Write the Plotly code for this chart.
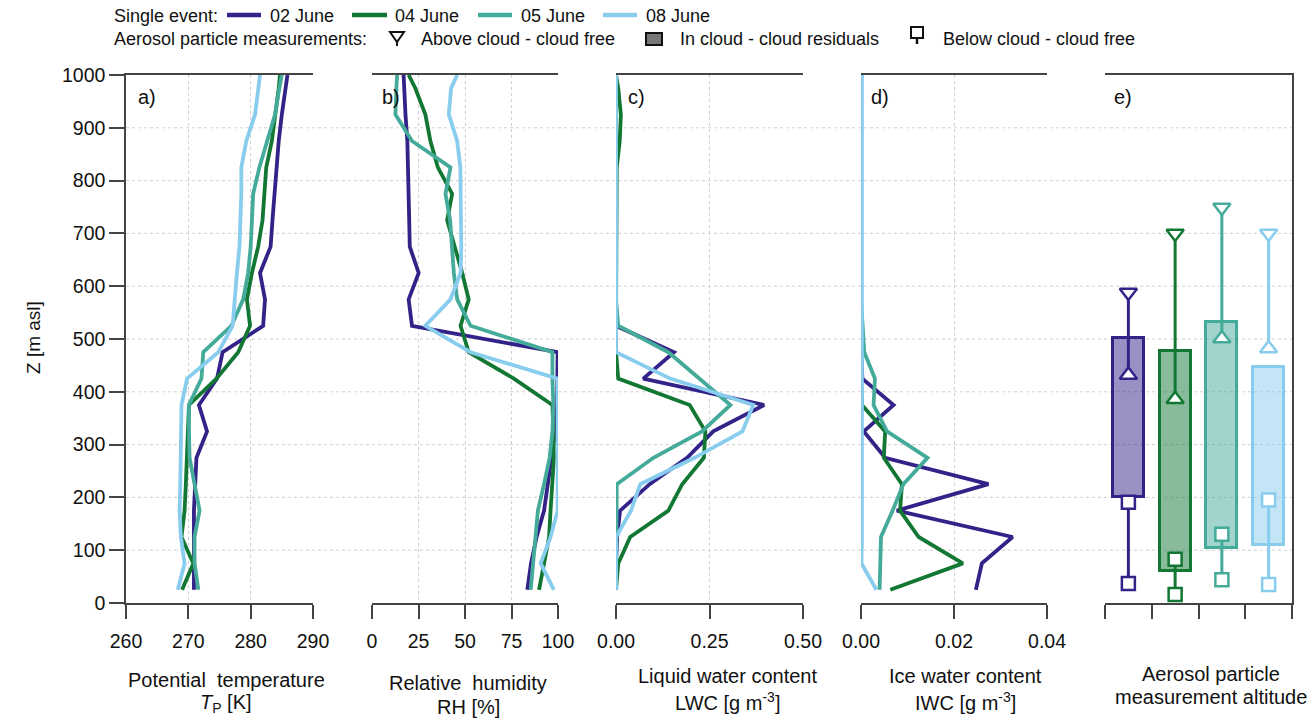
import plotly.graph_objects as go

W, H = 1316, 720

# ---------------- data ----------------
events = ["02 June", "04 June", "05 June", "08 June"]
colors = ["#332288", "#117733", "#44AA99", "#88CCEE"]
box_fills = ["rgba(51,34,136,0.5)", "rgba(17,119,51,0.5)",
             "rgba(68,170,153,0.5)", "rgba(136,204,238,0.5)"]

heights = [25, 75, 125, 175, 225, 275, 325, 375, 425, 475, 525,
           575, 625, 675, 725, 775, 825, 875, 925, 975, 1000]

tp_02 = [270.9, 270.9, 270.9, 270.9, 271.1, 271.3, 273.0, 271.7, 274.6, 275.5, 282.0,
         282.3, 281.5, 283.2, 283.5, 283.8, 284.1, 284.5, 285.0, 285.5, 285.9]
tp_04 = [269.0, 270.8, 268.9, 269.4, 269.6, 269.8, 269.9, 270.1, 274.5, 278.0, 279.9,
         279.4, 280.2, 281.2, 281.9, 282.2, 282.5, 283.4, 284.0, 284.5, 284.7]
tp_05 = [271.6, 271.0, 271.0, 271.8, 271.0, 270.2, 270.1, 270.1, 272.1, 272.4, 276.9,
         278.8, 279.6, 280.0, 280.2, 280.4, 281.4, 282.6, 283.9, 284.6, 285.0]
tp_08 = [268.3, 269.4, 268.8, 268.6, 268.7, 268.8, 268.8, 268.9, 269.8, 274.8, 277.1,
         277.4, 277.8, 278.2, 278.4, 278.5, 278.5, 279.3, 280.7, 281.3, 281.5]

rh_02 = [83.5, 85.5, 88.5, 92.5, 94.5, 96.5, 98.5, 99.5, 99.8, 99.8, 21.5,
         19.7, 25.1, 20.3, 20.0, 19.8, 19.5, 19.0, 18.0, 17.3, 17.0]
rh_04 = [89.8, 92.5, 95.2, 96.0, 96.8, 97.8, 97.5, 97.0, 76.3, 52.0, 47.6,
         52.0, 48.5, 44.3, 40.4, 43.1, 35.4, 31.4, 28.7, 23.3, 19.7]
rh_05 = [85.3, 86.5, 87.5, 89.2, 92.5, 95.5, 97.0, 97.5, 97.0, 97.0, 53.0,
         45.8, 44.0, 43.0, 42.0, 39.5, 42.2, 21.5, 12.6, 13.1, 13.5]
rh_08 = [97.8, 90.7, 96.0, 99.8, 99.8, 99.8, 99.8, 99.8, 99.8, 53.0, 28.7,
         42.2, 47.6, 48.0, 48.0, 47.8, 47.5, 45.8, 41.3, 42.5, 45.8]

lwc_02 = [0.0, 0.0, 0.003, 0.011, 0.09, 0.19, 0.26, 0.396, 0.073, 0.155, 0.0,
          0.0, 0.0, 0.0, 0.0, 0.0, 0.0, 0.0, 0.0, 0.0, 0.0]
lwc_04 = [0.0, 0.006, 0.038, 0.14, 0.177, 0.235, 0.239, 0.197, 0.006, 0.0, 0.0,
          0.0, 0.0, 0.0, 0.0, 0.0, 0.002, 0.01, 0.013, 0.006, 0.0]
lwc_05 = [0.0, 0.0, 0.0, 0.0, 0.002, 0.10, 0.23, 0.306, 0.223, 0.14, 0.006,
          0.0, 0.0, 0.0, 0.0, 0.0, 0.0, 0.0, 0.0, 0.0, 0.0]
lwc_08 = [0.0, 0.0, 0.0, 0.04, 0.065, 0.21, 0.338, 0.367, 0.145, 0.0, 0.0,
          0.0, 0.0, 0.0, 0.0, 0.0, 0.0, 0.0, 0.0, 0.0, 0.0]

iwc_02 = [0.0247, 0.026, 0.0326, 0.0077, 0.0274, 0.0052, 0.0006, 0.007, 0.0003, 0.0, 0.0,
          0.0, 0.0, 0.0, 0.0, 0.0, 0.0, 0.0, 0.0, 0.0, 0.0]
iwc_04 = [0.0063, 0.0219, 0.0124, 0.0084, 0.0088, 0.0049, 0.0052, 0.0002, 0.0, 0.0, 0.0,
          0.0, 0.0, 0.0, 0.0, 0.0, 0.0, 0.0, 0.0, 0.0, 0.0]
iwc_05 = [0.004, 0.0042, 0.0043, 0.0068, 0.0091, 0.0143, 0.0056, 0.0027, 0.003, 0.0007, 0.0004,
          0.0, 0.0, 0.0, 0.0, 0.0, 0.0, 0.0, 0.0, 0.0, 0.0]
iwc_08 = [0.0033, 0.0001, 0.0002, 0.0002, 0.0002, 0.0002, 0.0002, 0.0002, 0.0002, 0.0002, 0.0002,
          0.0002, 0.0002, 0.0002, 0.0002, 0.0002, 0.0002, 0.0002, 0.0002, 0.0002, 0.0002]

# panel e: aerosol particle measurement altitudes [m asl]
event_pos = [0.5, 1.5, 2.5, 3.5]
cloud_bottom = [200, 61, 105, 110]
cloud_top = [501, 478, 533, 447]
above_cloud = [588, 700, 749, 700]
in_cloud_upper = [432, 386, 501, 482]
in_cloud_lower = [191, 83, 130, 195]
below_cloud = [37, 16, 44, 35]

tp = [tp_02, tp_04, tp_05, tp_08]
rh = [rh_02, rh_04, rh_05, rh_08]
lwc = [lwc_02, lwc_04, lwc_05, lwc_08]
iwc = [iwc_02, iwc_04, iwc_05, iwc_08]

panel_ranges = [[260, 290], [0, 100], [0, 0.5], [0, 0.04], [0, 4]]
panel_ticks = [[260, 270, 280, 290], [0, 25, 50, 75, 100], [0, 0.25, 0.5], [0, 0.02, 0.04], [0, 1, 2, 3, 4]]
z_ticks = [0, 100, 200, 300, 400, 500, 600, 700, 800, 900, 1000]

# ---------------- layout geometry (pixels) ----------------
panel_px = [(126, 313), (372, 558), (616, 803), (861, 1047), (1105, 1292)]
y_top_px, y_bot_px = 75, 603
FONT = "Liberation Sans, Arial, sans-serif"
AX = "#444444"
GRID = "#cfcfcf"


def px(x):
    return x / W


def py(y):
    return 1 - y / H


fig = go.Figure()

# profiles a-d
for k, series in enumerate([tp, rh, lwc, iwc]):
    xa = "x" if k == 0 else f"x{k + 1}"
    ya = "y" if k == 0 else f"y{k + 1}"
    for i in range(4):
        fig.add_trace(go.Scatter(x=series[i], y=heights, mode="lines",
                                 line=dict(color=colors[i], width=3.8),
                                 xaxis=xa, yaxis=ya, showlegend=False,
                                 hoverinfo="skip"))

# panel e boxes
for i in range(4):
    fig.add_trace(go.Bar(x=[event_pos[i]], y=[cloud_top[i] - cloud_bottom[i]], base=[cloud_bottom[i]],
                         width=0.66, marker=dict(color=box_fills[i], line=dict(color=colors[i], width=3)),
                         xaxis="x5", yaxis="y5", showlegend=False, hoverinfo="skip"))
for i in range(4):
    c = event_pos[i]
    fig.add_trace(go.Scatter(x=[c, c, None, c, c],
                             y=[above_cloud[i], in_cloud_upper[i], None, in_cloud_lower[i], below_cloud[i]],
                             mode="lines", line=dict(color=colors[i], width=3),
                             xaxis="x5", yaxis="y5", showlegend=False, hoverinfo="skip"))
    mk = dict(color="white", line=dict(color=colors[i], width=2.5))
    fig.add_trace(go.Scatter(x=[c], y=[above_cloud[i]], mode="markers",
                             marker=dict(symbol="triangle-down", size=15, **mk),
                             xaxis="x5", yaxis="y5", showlegend=False, hoverinfo="skip", cliponaxis=False))
    fig.add_trace(go.Scatter(x=[c], y=[in_cloud_upper[i]], mode="markers",
                             marker=dict(symbol="triangle-up", size=15, **mk),
                             xaxis="x5", yaxis="y5", showlegend=False, hoverinfo="skip", cliponaxis=False))
    fig.add_trace(go.Scatter(x=[c, c], y=[in_cloud_lower[i], below_cloud[i]], mode="markers",
                             marker=dict(symbol="square", size=13, **mk),
                             xaxis="x5", yaxis="y5", showlegend=False, hoverinfo="skip", cliponaxis=False))

layout = dict(width=W, height=H, margin=dict(l=0, r=0, t=0, b=0, pad=0, autoexpand=False),
              template="none",
              paper_bgcolor="white", plot_bgcolor="rgba(0,0,0,0)",
              font=dict(family=FONT, size=19, color="#111111"),
              bargap=0, showlegend=False)

ydom = [py(y_bot_px), py(y_top_px)]
for k in range(5):
    n = "" if k == 0 else str(k + 1)
    x0, x1 = panel_px[k]
    xa = dict(domain=[px(x0), px(x1)], range=panel_ranges[k], tickvals=panel_ticks[k],
              ticks="outside", ticklen=14, tickwidth=1.5, tickcolor=AX,
              showline=True, mirror=True, linecolor=AX, linewidth=1.5,
              showgrid=(k < 4), gridcolor=GRID, griddash="dot", gridwidth=1,
              zeroline=False, anchor="y" + n, ticklabelstandoff=6, automargin=False,
              tickfont=dict(size=19.5, family=FONT, color="#111111"))
    if k in (2, 3):
        xa["tickformat"] = ".2f"
    if k == 4:
        xa["showticklabels"] = False
    layout["xaxis" + n] = xa
    ya = dict(domain=ydom, range=[0, 1000], anchor="x" + n, showgrid=False, zeroline=False,
              automargin=False)
    if k == 0:
        ya.update(tickvals=z_ticks, ticks="outside", ticklen=15, tickwidth=1.5, tickcolor=AX,
                  showline=True, linecolor=AX, linewidth=1.5,
                  tickfont=dict(size=19.5, family=FONT, color="#111111"))
    elif k == 4:
        ya.update(side="right", showline=True, linecolor=AX, linewidth=1.5,
                  ticks="", showticklabels=False)
    else:
        ya.update(showline=False, ticks="", showticklabels=False)
    layout["yaxis" + n] = ya

fig.update_layout(**layout)

# horizontal dotted gridlines spanning all panels
for z in z_ticks[1:-1]:
    fig.add_shape(type="line", xref="paper", yref="y", x0=px(126), x1=px(1292), y0=z, y1=z,
                  line=dict(color=GRID, width=1, dash="dot"), layer="below")

# panel letters
for lab, xp in zip(["a)", "b)", "c)", "d)", "e)"], [136, 380, 626, 869, 1112]):
    fig.add_annotation(x=px(xp), y=py(97), xref="paper", yref="paper", text=lab, showarrow=False,
                       xanchor="left", yanchor="middle", font=dict(size=20, family=FONT, color="#111111"))

# axis titles
titles = [
    ("Potential  temperature", "<i>T</i><sub>P</sub> [K]", 226, 680, 703),
    ("Relative  humidity", "RH [%]", 468, 683, 707),
    ("Liquid water content", "LWC [g m<sup>-3</sup>]", 727, 676, 701),
    ("Ice water content", "IWC [g m<sup>-3</sup>]", 965, 676, 701),
    ("Aerosol particle", "measurement altitude", 1211, 674, 697),
]
for t1, t2, xc, y1, y2 in titles:
    fig.add_annotation(x=px(xc), y=py(y1), xref="paper", yref="paper", text=t1, showarrow=False,
                       xanchor="center", yanchor="middle", font=dict(size=20, family=FONT, color="#111111"))
    fig.add_annotation(x=px(xc), y=py(y2), xref="paper", yref="paper", text=t2, showarrow=False,
                       xanchor="center", yanchor="middle", font=dict(size=20, family=FONT, color="#111111"))

fig.add_annotation(x=px(33), y=py(338), xref="paper", yref="paper", text="Z [m asl]", showarrow=False,
                   textangle=-90, xanchor="center", yanchor="middle",
                   font=dict(size=19, family=FONT, color="#111111"))

# ---------------- legend (drawn manually) ----------------
LF = dict(size=18, family=FONT, color="#111111")


def text_at(x, y, s):
    fig.add_annotation(x=px(x), y=py(y), xref="paper", yref="paper", text=s, showarrow=False,
                       xanchor="left", yanchor="middle", font=LF)


text_at(112, 16, "Single event:")
leg_line_x = [(227, 261), (352, 387), (478, 512), (603, 637)]
leg_text_x = [268, 393, 519, 644]
for i in range(4):
    a, b = leg_line_x[i]
    fig.add_shape(type="line", xref="paper", yref="paper", x0=px(a), x1=px(b), y0=py(15), y1=py(15),
                  line=dict(color=colors[i], width=4.5))
    text_at(leg_text_x[i], 16, events[i])

text_at(112, 39, "Aerosol particle measurements:")
# triangle symbol with stem
fig.add_shape(type="path", xref="paper", yref="paper",
              path=f"M{px(390)},{py(32)} L{px(404)},{py(32)} L{px(397)},{py(42)} Z",
              line=dict(color="#111111", width=2), fillcolor="white")
fig.add_shape(type="line", xref="paper", yref="paper", x0=px(397), x1=px(397), y0=py(42), y1=py(46),
              line=dict(color="#111111", width=2))
text_at(419, 39, "Above cloud - cloud free")
# in-cloud symbol
fig.add_shape(type="rect", xref="paper", yref="paper", x0=px(646), x1=px(662), y0=py(45), y1=py(33),
              line=dict(color="#111111", width=2), fillcolor="#777777")
text_at(678, 39, "In cloud - cloud residuals")
# below-cloud symbol with stem
fig.add_shape(type="rect", xref="paper", yref="paper", x0=px(911), x1=px(923), y0=py(38), y1=py(27),
              line=dict(color="#111111", width=2), fillcolor="white")
fig.add_shape(type="line", xref="paper", yref="paper", x0=px(917), x1=px(917), y0=py(38), y1=py(44),
              line=dict(color="#111111", width=2.5))
text_at(941, 39, "Below cloud - cloud free")

fig.write_html("out.html", config={"displayModeBar": False},
               post_script="document.body.style.margin='0';document.body.style.overflow='hidden';")
